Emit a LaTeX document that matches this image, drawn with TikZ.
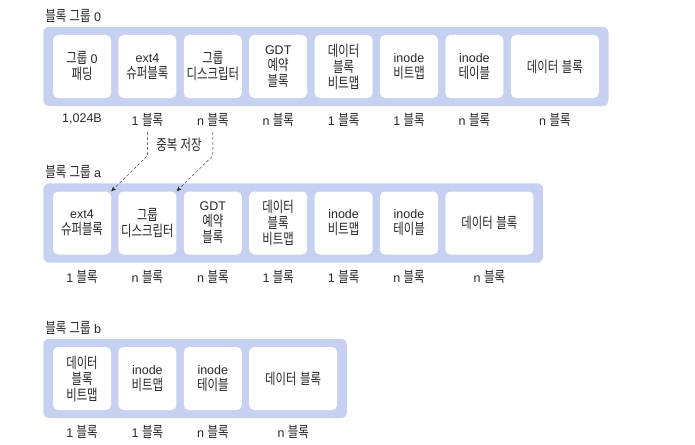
\documentclass[tikz,border=0pt]{standalone}
\usepackage{fontspec}
\setmainfont{Liberation Sans}
\newfontfamily\hangulfont[Scale=1.2, FakeStretch=0.76]{Noto Sans CJK KR}
% switch to the Korean font for Hangul syllables
\XeTeXinterchartokenstate=1
\newXeTeXintercharclass\hangulclass
\count255="AC00
\loop\ifnum\count255<"D7A4
	\XeTeXcharclass\count255=\hangulclass
	\advance\count255 by 1
\repeat
\XeTeXinterchartoks 0 \hangulclass = {\begingroup\hangulfont}
\XeTeXinterchartoks 4095 \hangulclass = {\begingroup\hangulfont}
\XeTeXinterchartoks \hangulclass 0 = {\endgroup}
\XeTeXinterchartoks \hangulclass 4095 = {\endgroup}
\usetikzlibrary{arrows.meta, positioning, fit, backgrounds}
\definecolor{bandblue}{RGB}{198,208,240}
\definecolor{inkgray}{RGB}{40,40,40}

\begin{document}
\begin{tikzpicture}[
		x=1pt, y=1pt,
		node distance=7pt,
		field/.style={rectangle, rounded corners=5pt, fill=white, minimum width=58pt, minimum height=63pt, inner sep=1pt, align=center, text=inkgray, font=\fontsize{12.5}{16}\selectfont},
		widefield/.style={field, minimum width=88pt},
		size/.style={inner sep=0pt, text=inkgray, font=\fontsize{12.5}{14}\selectfont},
		group/.style={rectangle, rounded corners=6pt, fill=bandblue, inner xsep=9.5pt, inner ysep=8pt},
		grptitle/.style={inner sep=0pt, text=inkgray, font=\fontsize{12.5}{14}\selectfont},
		dup/.style={-{Stealth[length=5pt, width=4pt]}, densely dashed, thin, inkgray}
		]
		\useasboundingbox (0,0) rectangle (695,-444);

		% block group 0
		\node[field] (g01) at (82,-66.5) {그룹 0\\패딩};
		\node[field, right=of g01] (g02) {ext4\\슈퍼블록};
		\node[field, right=of g02] (g03) {그룹\\디스크립터};
		\node[field, right=of g03] (g04) {GDT\\예약\\블록};
		\node[field, right=of g04] (g05) {데이터\\블록\\비트맵};
		\node[field, right=of g05] (g06) {inode\\비트맵};
		\node[field, right=of g06] (g07) {inode\\테이블};
		\node[widefield, right=of g07] (g08) {데이터 블록};

		\node[size, below=15pt of g01] (s01) {1,024B};
		\node[size, below=15pt of g02] (s02) {1 블록};
		\node[size, below=15pt of g03] (s03) {n 블록};
		\node[size, below=15pt of g04] (s04) {n 블록};
		\node[size, below=15pt of g05] (s05) {1 블록};
		\node[size, below=15pt of g06] (s06) {1 블록};
		\node[size, below=15pt of g07] (s07) {n 블록};
		\node[size, below=15pt of g08] (s08) {n 블록};

		% block group a
		\node[field] (a1) at (82,-223) {ext4\\슈퍼블록};
		\node[field, right=of a1] (a2) {그룹\\디스크립터};
		\node[field, right=of a2] (a3) {GDT\\예약\\블록};
		\node[field, right=of a3] (a4) {데이터\\블록\\비트맵};
		\node[field, right=of a4] (a5) {inode\\비트맵};
		\node[field, right=of a5] (a6) {inode\\테이블};
		\node[widefield, right=of a6] (a7) {데이터 블록};

		\node[size, below=15pt of a1] (sa1) {1 블록};
		\node[size, below=15pt of a2] (sa2) {n 블록};
		\node[size, below=15pt of a3] (sa3) {n 블록};
		\node[size, below=15pt of a4] (sa4) {1 블록};
		\node[size, below=15pt of a5] (sa5) {1 블록};
		\node[size, below=15pt of a6] (sa6) {n 블록};
		\node[size, below=15pt of a7] (sa7) {n 블록};

		% block group b
		\node[field] (b1) at (82,-378.5) {데이터\\블록\\비트맵};
		\node[field, right=of b1] (b2) {inode\\비트맵};
		\node[field, right=of b2] (b3) {inode\\테이블};
		\node[widefield, right=of b3] (b4) {데이터 블록};

		\node[size, below=15pt of b1] (sb1) {1 블록};
		\node[size, below=15pt of b2] (sb2) {1 블록};
		\node[size, below=15pt of b3] (sb3) {n 블록};
		\node[size, below=15pt of b4] (sb4) {n 블록};

		\begin{scope}[on background layer]
			\node[group, fit=(g01)(g08)] (grp0) {};
			\node[group, fit=(a1)(a7)] (grpa) {};
			\node[group, fit=(b1)(b4)] (grpb) {};
		\end{scope}

		\node[grptitle, above right=4pt and 2pt of grp0.north west] (t0) {블록 그룹 0};
		\node[grptitle, above right=4pt and 2pt of grpa.north west] (ta) {블록 그룹 a};
		\node[grptitle, above right=4pt and 2pt of grpb.north west] (tb) {블록 그룹 b};

		% redundant copies
		\draw[dup] ([yshift=-5pt]s02.south) -- ++(0,-24) -- (a1.north east);
		\draw[dup] ([yshift=-5pt]s03.south) -- ++(0,-24) -- (a2.north east);
		\node[size] (dupl) at (179,-145) {중복 저장};
	\end{tikzpicture}
\end{document}
